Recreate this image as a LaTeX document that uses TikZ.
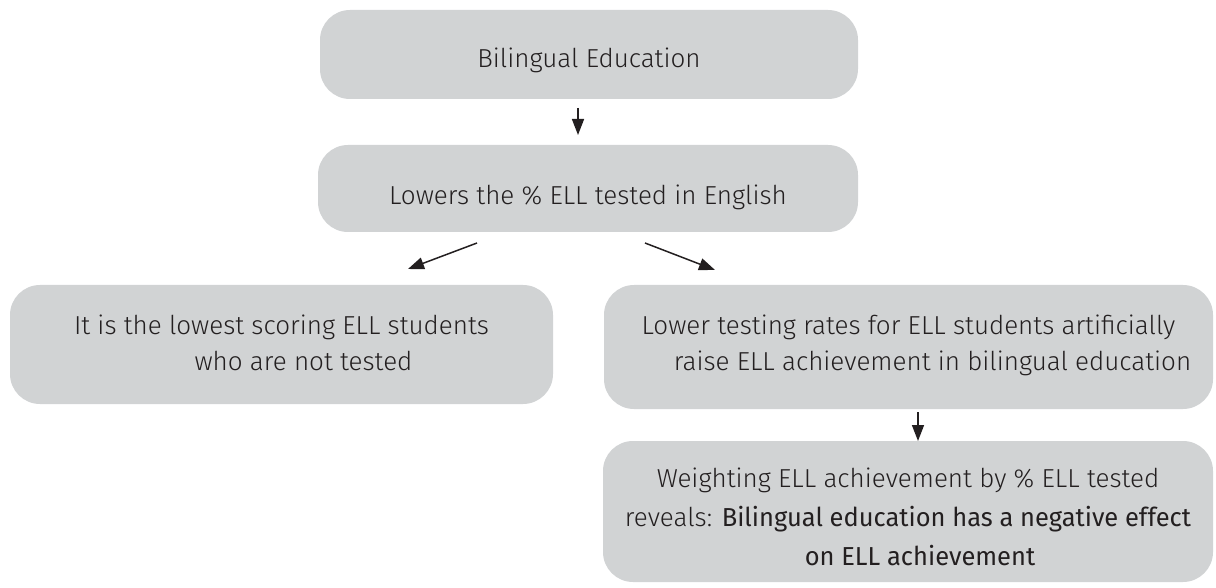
\documentclass[tikz,border=0pt]{standalone}
\usepackage{fontspec}
\setmainfont{Fira Sans}[UprightFont={* Light}, BoldFont={*}, BoldFeatures={FakeStretch=0.98}]
\usetikzlibrary{arrows.meta,calc}
\definecolor{boxgray}{HTML}{D1D3D4}
\definecolor{ink}{HTML}{231F20}
\begin{document}
\begin{tikzpicture}[
  x=1pt, y=-1pt,
  box/.style={fill=boxgray, rounded corners=30pt, inner sep=0pt, outer sep=0pt,
    text=ink, align=center, text depth=0pt, font=\fontsize{26}{38}\selectfont},
  link/.style={draw=ink, line width=1.5pt, -{Triangle[length=16pt,width=12pt]}}
]
\useasboundingbox (0,0) rectangle (1216,588);

\node[box, minimum width=538pt, minimum height=89pt, text height=26pt] (b1) at (589,54.5)
  {Bilingual Education};
\node[box, minimum width=540pt, minimum height=87pt, text height=32pt] (b2) at (588,188.5)
  {Lowers the \% ELL tested in English};
\node[box, minimum width=543pt, minimum height=119pt, text height=52pt,
      font=\fontsize{26}{36}\selectfont] (b3) at (281.5,344.5)
  {It is the lowest scoring ELL students\\\hspace*{44pt}who are not tested};
\node[box, minimum width=609pt, minimum height=124pt, text height=46pt,
      font=\fontsize{26}{36}\selectfont] (b4) at (908.5,347)
  {Lower testing rates for ELL students artificially\\\hspace*{48pt}raise ELL achievement in bilingual education};
\node[box, minimum width=610pt, minimum height=141pt, text height=108pt,
      font=\fontsize{26}{39}\selectfont] (b5) at (908,511.5)
  {Weighting ELL achievement by \% ELL tested\\reveals: \textbf{Bilingual education has a negative effect}\\\hspace*{24pt}\textbf{on ELL achievement}};

\draw[link] ($(b1.south west)+(258,9)$) -- ($(b2.north west)+(260,-10)$);
\draw[link] ($(b2.south west)+(159,11)$) -- ($(b3.north west)+(398,-16)$);
\draw[link] ($(b2.south west)+(327,11)$) -- ($(b4.north west)+(111,-15)$);
\draw[link] ($(b4.south west)+(314,3)$) -- ($(b5.north west)+(315,0)$);
\end{tikzpicture}
\end{document}
